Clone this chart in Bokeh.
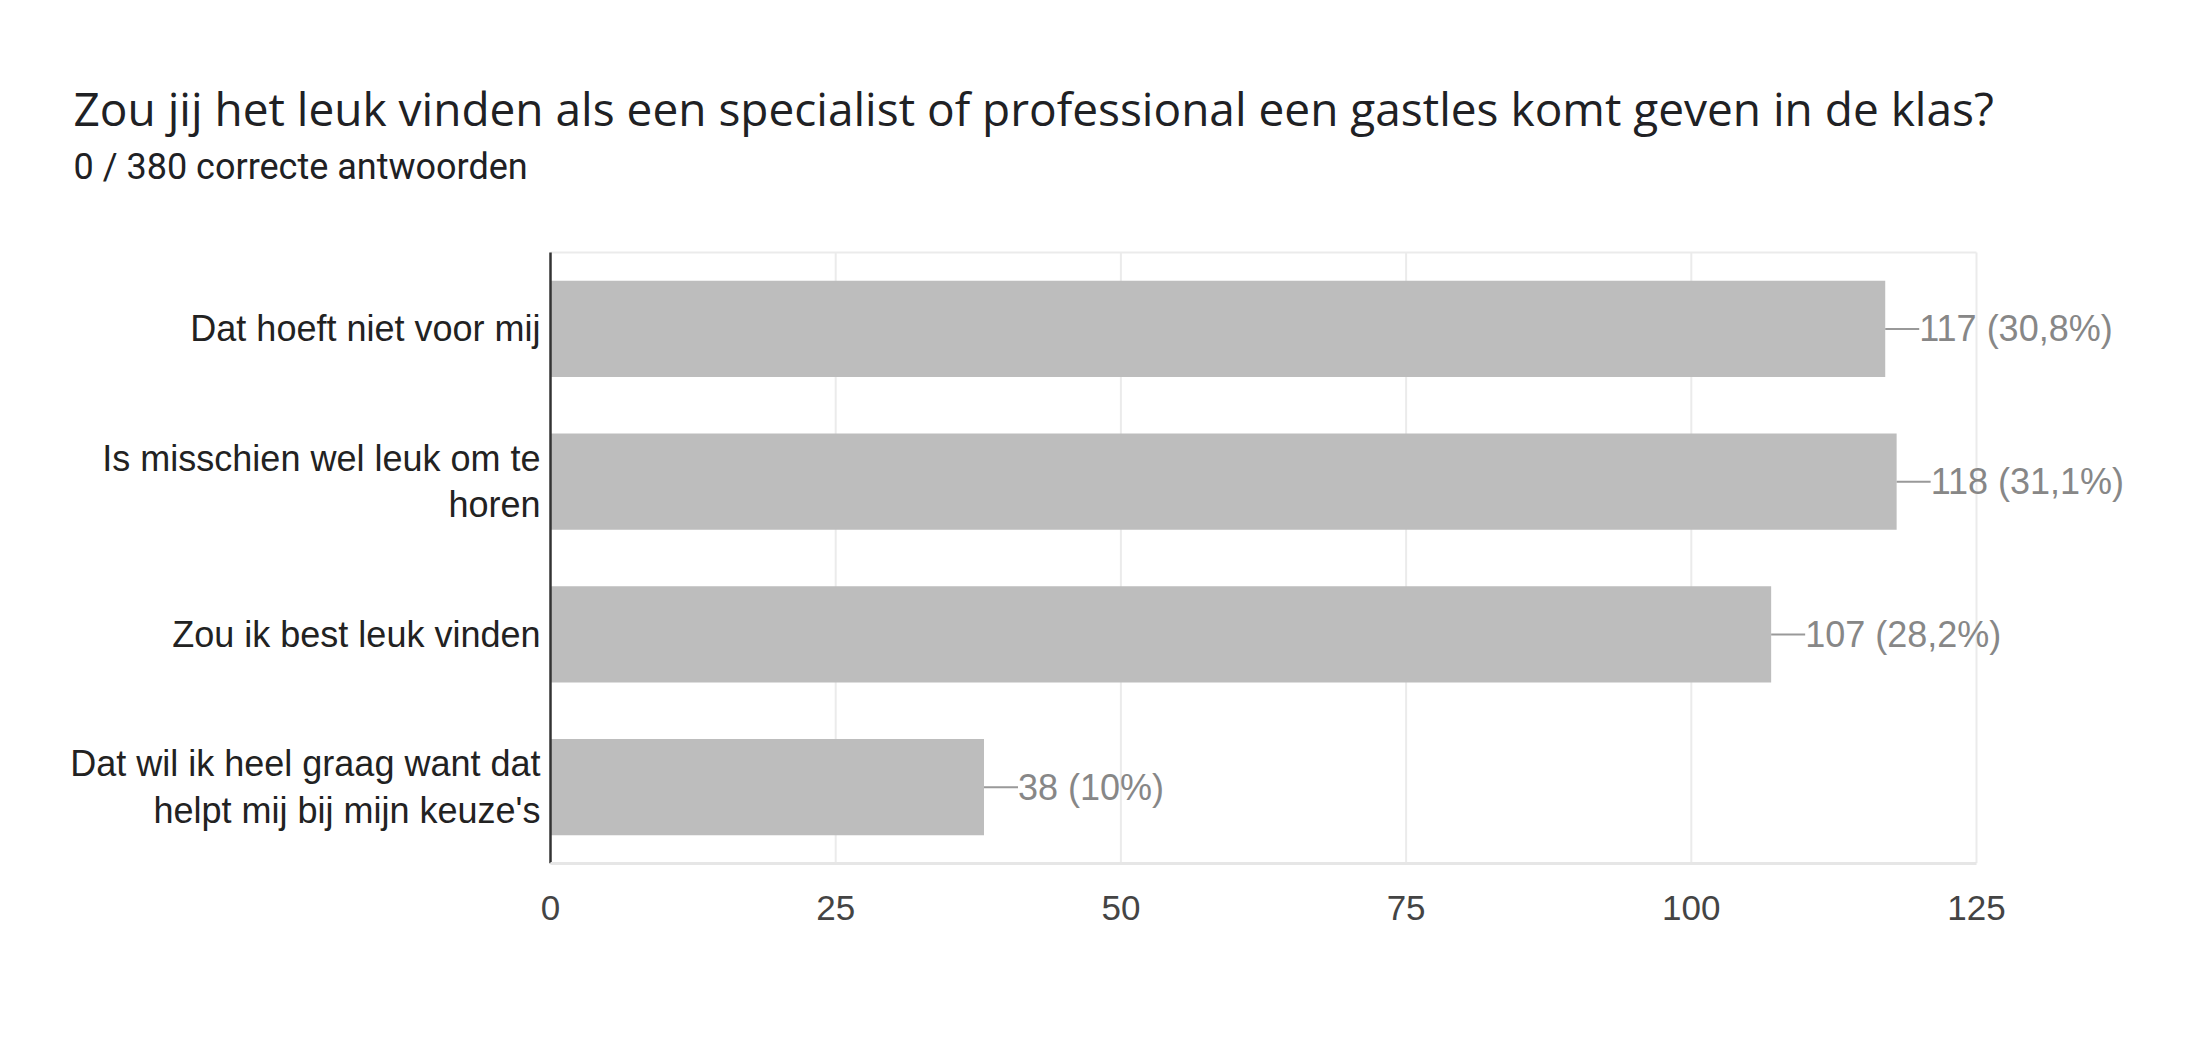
from bokeh.plotting import figure
from bokeh.models import ColumnDataSource, Label, Range1d, FixedTicker
from bokeh.core.properties import value
from bokeh.embed import file_html
from bokeh.resources import INLINE

title_text = "Zou jij het leuk vinden als een specialist of professional een gastles komt geven in de klas?"
subtitle_text = "0 / 380 correcte antwoorden"
categories = [
    "Dat hoeft niet voor mij",
    "Is misschien wel leuk om te\nhoren",
    "Zou ik best leuk vinden",
    "Dat wil ik heel graag want dat\nhelpt mij bij mijn keuze's",
]
counts = [117, 118, 107, 38]
percents = ["30,8%", "31,1%", "28,2%", "10%"]
x_ticks = [0, 25, 50, 75, 100, 125]

n = len(categories)
ypos = [n - i - 0.5 for i in range(n)]
labels = [f"{c} ({p})" for c, p in zip(counts, percents)]

# layout (canvas pixels)
W, H = 2180, 1028
AX_L, AX_R, AX_T = 550, 1976, 252      # data area inside the frame
FH = 863                                 # frame bottom (frame spans full width)
BOTTOM = H - FH
xmin, xmax = x_ticks[0], x_ticks[-1]
upx = (xmax - xmin) / (AX_R - AX_L)      # data units per px (x)
ppy = (FH - AX_T) / n                    # px per unit (y)
conn_px = 34

src = ColumnDataSource(dict(
    y=ypos, count=counts, cat=categories, lab=labels,
    zero=[0] * n,
    conn_end=[c + conn_px * upx for c in counts],
    lab_x=[c + conn_px * upx for c in counts],
))
grid_src = ColumnDataSource(dict(x=x_ticks[1:], y0=[0] * (len(x_ticks) - 1), y1=[n] * (len(x_ticks) - 1)))

p = figure(width=W, height=H, output_backend="svg", toolbar_location=None,
           x_range=Range1d(xmin - AX_L * upx, xmax + (W - AX_R) * upx),
           y_range=Range1d(0, n + AX_T / ppy),
           min_border_left=0, min_border_right=0,
           min_border_top=0, min_border_bottom=BOTTOM,
           background_fill_color="white", border_fill_color="white",
           outline_line_color=None)

# grid lines and top border
p.segment(x0="x", y0="y0", x1="x", y1="y1", source=grid_src, line_color="#ebebeb", line_width=2)
p.segment(x0=[xmin], y0=[n], x1=[xmax], y1=[n], line_color="#ebebeb", line_width=2)

p.hbar(y="y", left=0, right="count", height=0.63, source=src,
       fill_color="#bdbdbd", line_color=None)

# left axis line
p.segment(x0=[xmin], y0=[0], x1=[xmin], y1=[n], line_color="#333333", line_width=2.5)

p.segment(x0="count", y0="y", x1="conn_end", y1="y", source=src,
          line_color="#999999", line_width=2)

p.text(x="lab_x", y="y", text="lab", source=src,
       text_baseline="middle", text_align="left",
       text_font=value("Liberation Sans"), text_font_size="36px",
       text_color="#878787")
p.text(x="zero", y="y", text="cat", source=src, x_offset=-10,
       text_baseline="middle", text_align="right",
       text_font=value("Liberation Sans"), text_font_size="36px",
       text_line_height=1.14, text_color="#222222")

p.yaxis.visible = False
p.ygrid.visible = False
p.xgrid.visible = False
p.xaxis.bounds = (xmin, xmax)
p.xaxis.ticker = FixedTicker(ticks=x_ticks)
p.xaxis.axis_line_color = "#e6e6e6"
p.xaxis.axis_line_width = 3
p.xaxis.major_tick_line_color = None
p.xaxis.minor_tick_line_color = None
p.xaxis.major_label_standoff = 26
p.xaxis.major_label_text_font = "Liberation Sans"
p.xaxis.major_label_text_font_size = "35px"
p.xaxis.major_label_text_color = "#444444"

p.add_layout(Label(x=73, y=FH - 107, x_units="screen", y_units="screen",
                   text=title_text, text_font="Open Sans", text_font_size="46px",
                   text_color="#202124", text_baseline="alphabetic"))
p.add_layout(Label(x=73, y=FH - 166, x_units="screen", y_units="screen",
                   text=subtitle_text, text_font="Roboto", text_font_size="36px",
                   text_color="#202124", text_baseline="alphabetic"))

open("out.html", "w").write(file_html(p, INLINE))
